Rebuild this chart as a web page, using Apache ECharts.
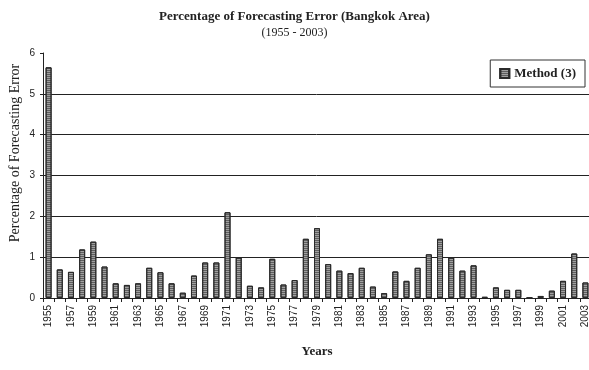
<!DOCTYPE html>
<html>
<head>
<meta charset="utf-8">
<script src="https://cdn.jsdelivr.net/npm/echarts@6/dist/echarts.min.js"></script>
<style>
  html, body { margin: 0; padding: 0; background: #fff; }
  #chart { width: 589px; height: 370px; }
</style>
</head>
<body>
<div id="chart"></div>
<script>
// Years 1955 - 2003
const years = [
  '1955','1956','1957','1958','1959','1960','1961','1962','1963','1964',
  '1965','1966','1967','1968','1969','1970','1971','1972','1973','1974',
  '1975','1976','1977','1978','1979','1980','1981','1982','1983','1984',
  '1985','1986','1987','1988','1989','1990','1991','1992','1993','1994',
  '1995','1996','1997','1998','1999','2000','2001','2002','2003'
];

// Percentage of forecasting error, Method (3)
const method3 = [
  5.65, 0.70, 0.64, 1.19, 1.38, 0.77, 0.36, 0.32, 0.36, 0.74,
  0.63, 0.36, 0.13, 0.55, 0.87, 0.87, 2.10, 0.99, 0.30, 0.26,
  0.96, 0.33, 0.44, 1.45, 1.71, 0.83, 0.67, 0.61, 0.74, 0.28,
  0.12, 0.65, 0.42, 0.74, 1.07, 1.45, 0.99, 0.67, 0.80, 0.03,
  0.26, 0.20, 0.20, 0.01, 0.05, 0.18, 0.42, 1.09, 0.38
];

const yTicks = [0, 1, 2, 3, 4, 5, 6];

const serif = '"Liberation Serif", "DejaVu Serif", serif';
const sans = '"Liberation Sans", Arial, sans-serif';

const chart = echarts.init(document.getElementById('chart'), null, { renderer: 'canvas' });

chart.setOption({
  animation: false,
  backgroundColor: '#fff',
  title: {
    text: 'Percentage of Forecasting Error (Bangkok Area)',
    subtext: '(1955 - 2003)',
    left: 'center',
    top: 5,
    itemGap: 4,
    textStyle: { fontFamily: serif, fontSize: 13, fontWeight: 'bold', color: '#222' },
    subtextStyle: { fontFamily: serif, fontSize: 12, color: '#222' }
  },
  legend: {
    data: ['Method (3)'],
    right: 4,
    top: 60,
    orient: 'vertical',
    icon: 'rect',
    itemWidth: 9,
    itemHeight: 9,
    itemGap: 4,
    padding: [7, 9, 7, 9],
    borderColor: '#333',
    borderWidth: 1,
    backgroundColor: '#fff',
    textStyle: { fontFamily: serif, fontSize: 13, fontWeight: 'bold', color: '#222' }
  },
  grid: { left: 43, top: 53, width: 548, height: 245, outerBoundsMode: 'none' },
  xAxis: {
    type: 'category',
    data: years,
    name: 'Years',
    nameLocation: 'middle',
    nameGap: 47,
    nameTextStyle: { fontFamily: serif, fontSize: 13, fontWeight: 'bold', color: '#222' },
    axisLine: { lineStyle: { color: '#222', width: 1 } },
    axisTick: { show: true, interval: 0, length: 4, lineStyle: { color: '#222' } },
    axisLabel: {
      interval: 1,
      rotate: 90,
      margin: 7,
      fontFamily: sans,
      fontSize: 10,
      color: '#222'
    }
  },
  yAxis: {
    type: 'value',
    min: yTicks[0],
    max: yTicks[yTicks.length - 1],
    interval: 1,
    axisLine: { show: true, lineStyle: { color: '#222', width: 1 } },
    axisTick: { show: true, length: 3, lineStyle: { color: '#222' } },
    axisLabel: { fontFamily: sans, fontSize: 10, color: '#222', margin: 8 },
    splitLine: {
      show: true,
      lineStyle: { color: '#222', width: 1 },
      showMaxLine: false
    }
  },
  graphic: [{
    type: 'text',
    x: 8,
    y: 153,
    rotation: Math.PI / 2,
    style: {
      text: 'Percentage of Forecasting Error',
      fontFamily: serif,
      fontSize: 14,
      fill: '#222',
      align: 'center',
      verticalAlign: 'top'
    }
  }],
  series: [{
    name: 'Method (3)',
    type: 'bar',
    data: method3,
    barWidth: 6,
    itemStyle: {
      color: '#a0a0a0',
      borderColor: '#2a2a2a',
      borderWidth: 1,
      decal: {
        symbol: 'rect',
        symbolSize: 1,
        dashArrayX: [1, 0],
        dashArrayY: [1, 1],
        color: 'rgba(40,40,40,0.55)'
      }
    }
  }]
});
</script>
</body>
</html>
